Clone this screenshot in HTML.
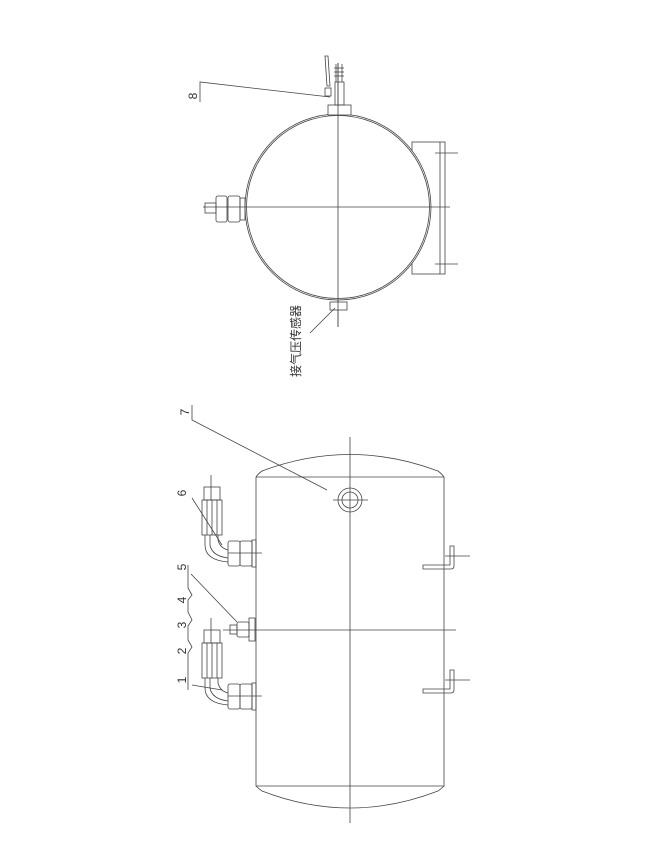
<!DOCTYPE html>
<html><head><meta charset="utf-8"><style>
html,body{margin:0;padding:0;background:#fff;width:645px;height:855px;overflow:hidden}
svg{display:block}
text{font-family:"Liberation Sans","Noto Sans CJK SC",sans-serif;fill:#333}
</style></head><body>
<svg width="645" height="855" viewBox="0 0 645 855" xmlns="http://www.w3.org/2000/svg" fill="none" stroke="#444" stroke-width="0.8">
<!-- ===== End view (top) ===== -->
<!-- right flat bracket (behind circle) -->
<rect x="412" y="142" width="33" height="132"/>
<line x1="440" y1="142" x2="440" y2="274"/>
<circle cx="338" cy="207" r="93" fill="#fff"/>
<circle cx="338" cy="207" r="91.5"/>
<line x1="435" y1="153" x2="458" y2="153"/>
<line x1="435" y1="264" x2="458" y2="264"/>
<line x1="203" y1="207" x2="450" y2="207"/>
<line x1="338" y1="63" x2="338" y2="327"/>
<!-- left fitting -->
<rect x="205" y="203" width="11" height="10"/>
<rect x="216" y="196" width="11" height="26" rx="2"/>
<rect x="228" y="196" width="12" height="26" rx="2"/>
<rect x="240" y="198" width="5" height="22"/>
<!-- top valve -->
<rect x="328" y="105" width="23" height="10" fill="#fff"/>
<rect x="335" y="82" width="9" height="23"/>
<line x1="336" y1="64" x2="336" y2="82"/><line x1="342" y1="64" x2="342" y2="82"/>
<line x1="334" y1="68" x2="344" y2="68"/><line x1="334" y1="72" x2="344" y2="72"/><line x1="334" y1="76" x2="344" y2="76"/>
<rect x="325" y="88" width="6" height="8"/>
<path d="M325 56 L328 56 L330 86 L327 86 Z"/>
<line x1="338" y1="63" x2="338" y2="115"/>
<!-- label 8 -->
<polyline points="200,102 200,82 330,97"/>
<text x="0" y="0" font-size="12" transform="translate(197,96) rotate(-90)" text-anchor="middle" stroke="none">8</text>
<!-- bottom boss + chinese label -->
<rect x="330" y="302" width="17" height="8" fill="#fff"/>
<line x1="338" y1="300" x2="338" y2="327"/>
<line x1="310" y1="333" x2="335" y2="308"/>
<text x="0" y="0" font-size="12" transform="translate(300,341) rotate(-90)" text-anchor="middle" stroke="none">接气压传感器</text>

<!-- ===== Side view (bottom) ===== -->
<path d="M256 477 L256 786 L444 786 L444 477"/>
<path d="M256 786 Q258 788 262 791 Q350 825 438 791 Q442 788 444 786"/>
<path d="M256 477 Q258 474 262 471 Q350 438 438 471 Q442 474 444 477"/>
<line x1="256" y1="477" x2="444" y2="477"/>
<line x1="350" y1="437" x2="350" y2="823"/>
<line x1="223" y1="630" x2="456" y2="630"/>
<!-- fitting 7 -->
<circle cx="350" cy="500" r="12"/>
<circle cx="350" cy="500" r="8"/>
<line x1="333" y1="500" x2="368" y2="500"/>
<polyline points="192,405 192,420 327,490"/>
<text font-size="12" transform="translate(189,412) rotate(-90)" text-anchor="middle" stroke="none">7</text>

<!-- fitting 6 (upper) -->
<g id="fit">
<rect x="252" y="540" width="4" height="27"/>
<rect x="240" y="541" width="12" height="25" rx="2"/>
<rect x="228" y="541" width="12" height="25" rx="2"/>
<line x1="228" y1="553" x2="262" y2="553"/>
<path d="M205 535 L205 545 Q205 560 228 562"/>
<path d="M218 535 L218 540 Q220 548 228 550"/>
<path d="M210 535 L210 545 Q212 556 228 558"/>
<rect x="202" y="500" width="20" height="35"/>
<line x1="207" y1="500" x2="207" y2="535"/><line x1="212" y1="500" x2="212" y2="535"/><line x1="217" y1="500" x2="217" y2="535"/>
<rect x="204" y="487" width="16" height="13"/>
<line x1="211" y1="475" x2="211" y2="500"/>
</g>
<use href="#fit" transform="translate(0,143)"/>
<!-- fitting 5 -->
<rect x="249" y="618" width="6" height="23"/>
<rect x="237" y="622" width="12" height="15" rx="2"/>
<rect x="230" y="625" width="7" height="9"/>
<!-- brackets -->
<g id="br">
<path d="M423 569 L451 569 Q454 569 454 566 L454 546 L450 546 L450 565 L423 565 Z"/>
<line x1="445" y1="556" x2="470" y2="556"/>
</g>
<use href="#br" transform="translate(0,124)"/>

<!-- labels 1-6 -->
<line x1="192" y1="498" x2="222" y2="545"/>
<line x1="191" y1="574" x2="237" y2="622"/>
<line x1="192" y1="685" x2="222" y2="690"/>
<polyline points="188,565 188,588 192,595 188,600 188,612 192,620 188,626 188,640 192,647 188,653 188,667 188,690"/>
<text font-size="12" transform="translate(186,493) rotate(-90)" text-anchor="middle" stroke="none">6</text>
<text font-size="12" transform="translate(186,567) rotate(-90)" text-anchor="middle" stroke="none">5</text>
<text font-size="12" transform="translate(186,600) rotate(-90)" text-anchor="middle" stroke="none">4</text>
<text font-size="12" transform="translate(186,625) rotate(-90)" text-anchor="middle" stroke="none">3</text>
<text font-size="12" transform="translate(186,651) rotate(-90)" text-anchor="middle" stroke="none">2</text>
<text font-size="12" transform="translate(186,680) rotate(-90)" text-anchor="middle" stroke="none">1</text>
</svg>
</body></html>
